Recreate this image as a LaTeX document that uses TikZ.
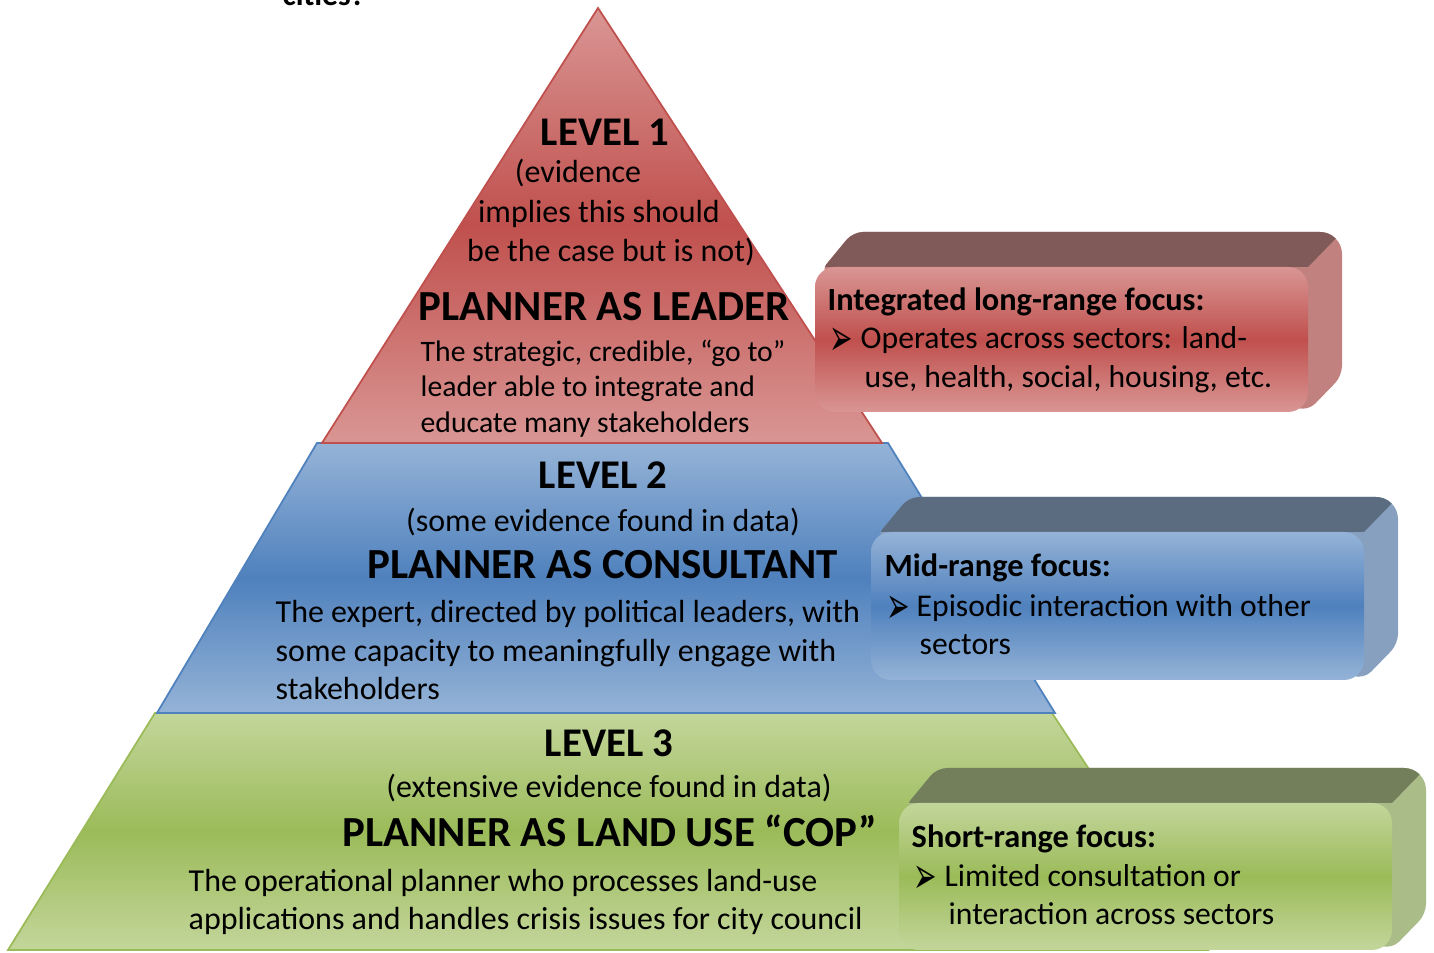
\documentclass[tikz,border=0pt]{standalone}
\usepackage{fontspec}
\setmainfont{Carlito}
\newfontfamily\symfont{DejaVu Sans}
\usepackage{tikz}

\definecolor{redlight}{HTML}{D99694}
\definecolor{reddark}{HTML}{C0504D}
\definecolor{redtop}{HTML}{805A59}
\definecolor{redside}{HTML}{C0817F}
\definecolor{bluelight}{HTML}{95B3D7}
\definecolor{bluedark}{HTML}{4F81BD}
\definecolor{bluetop}{HTML}{5B6B80}
\definecolor{blueside}{HTML}{87A0BF}
\definecolor{greenlight}{HTML}{C3D69B}
\definecolor{greendark}{HTML}{9BBB59}
\definecolor{greentop}{HTML}{737F5B}
\definecolor{greenside}{HTML}{AABD89}

\newcommand{\arrowbullet}{\raisebox{-0.65mm}{\scalebox{0.76}[1.4]{\symfont ➢}}}

\tikzset{
  levelhead/.style={inner sep=0pt, anchor=base, font=\fontsize{11.6}{13}\selectfont\bfseries},
  rolehead/.style={inner sep=0pt, anchor=base, font=\fontsize{12.2}{14}\selectfont\bfseries},
  evtext/.style={inner sep=0pt, anchor=base, font=\fontsize{9.1}{11}\selectfont},
  bodytext/.style={inner sep=0pt, anchor=base west, font=\fontsize{9.1}{11}\selectfont},
  smalltext/.style={inner sep=0pt, anchor=base west, font=\fontsize{8.45}{10}\selectfont},
  boxhead/.style={inner sep=0pt, anchor=base west, font=\fontsize{9.2}{11}\selectfont\bfseries},
  boxtext/.style={inner sep=0pt, anchor=base west, font=\fontsize{9}{11}\selectfont},
  bullet/.style={inner sep=0pt, anchor=base west, font=\fontsize{10.5}{11}\selectfont},
  redfill/.style={draw=reddark, line width=0.5pt, top color=redlight, bottom color=redlight, middle color=reddark},
  bluefill/.style={draw=bluedark, line width=0.5pt, top color=bluelight, bottom color=bluelight, middle color=bluedark},
  greenfill/.style={draw=greendark, line width=0.5pt, top color=greenlight, bottom color=greenlight, middle color=greendark},
}

\begin{document}
\begin{tikzpicture}
		\useasboundingbox (0,0) rectangle (14.34,9.53);
		\node[inner sep=0pt, anchor=base west, font=\fontsize{9}{11}\selectfont\bfseries] (cities) at (2.82,9.47) {cities?};
		
		% pyramid
		\path[greenfill] (1.55,2.40) -- (10.52,2.40) -- (12.08,0.03) -- (0.08,0.03) -- cycle;
		\path[bluefill] (3.17,5.10) -- (8.88,5.10) -- (10.55,2.40) -- (1.57,2.40) -- cycle;
		\path[redfill] (5.98,9.45) -- (8.82,5.10) -- (3.22,5.10) -- cycle;
		
		% boxes: back (top + side), then front
		\foreach \xa/\ya/\yb/\col in {8.15/5.41/6.86/red, 8.71/2.73/4.21/blue, 8.99/0.03/1.50/green}{
			\pgfmathsetmacro\xb{\xa+4.93}
			\begin{scope}
				\path[clip, rounded corners=0.1cm] (\xa+0.05,\yb-0.05) -- (\xa+0.38,\yb+0.35) [rounded corners=0.22cm] -- (\xb+0.34,\yb+0.35) [rounded corners=0.1cm] -- (\xb+0.34,\ya+0.36) -- (\xb,\ya+0.01) -- cycle;
				\fill[\col side] (\xa,\ya) rectangle (\xb+0.4,\yb+0.4);
				\fill[\col top] (\xa,\yb) -- (\xa+0.35,\yb+0.35) -- (\xb+0.34,\yb+0.35) -- (\xb,\yb) -- cycle;
			\end{scope}
			\path[top color=\col light, bottom color=\col light, middle color=\col dark, rounded corners=0.2cm] (\xa,\ya) rectangle (\xb,\yb);
		}
		
		% level 1
		\node[levelhead] (lvla) at (6.05,8.07) {LEVEL 1};
		\node[evtext] (evaa) at (5.78,7.70) {(evidence};
		\node[evtext] (evab) at (5.99,7.30) {implies this should};
		\node[evtext] (evac) at (6.11,6.91) {be the case but is not)};
		\node[rolehead] (rolea) at (6.04,6.32) {PLANNER AS LEADER};
		\node[smalltext] (bodyaa) at (4.20,5.91) {The strategic, credible, “go to”};
		\node[smalltext] (bodyab) at (4.20,5.56) {leader able to integrate and};
		\node[smalltext] (bodyac) at (4.20,5.20) {educate many stakeholders};
		
		% level 2
		\node[levelhead] (lvlb) at (6.03,4.64) {LEVEL 2};
		\node[evtext] (evb) at (6.03,4.21) {(some evidence found in data)};
		\node[rolehead] (roleb) at (6.03,3.74) {PLANNER AS CONSULTANT};
		\node[bodytext] (bodyba) at (2.75,3.30) {The expert, directed by political leaders, with};
		\node[bodytext] (bodybb) at (2.75,2.91) {some capacity to meaningfully engage with};
		\node[bodytext] (bodybc) at (2.75,2.53) {stakeholders};
		
		% level 3
		\node[levelhead] (lvlc) at (6.09,1.96) {LEVEL 3};
		\node[evtext] (evc) at (6.09,1.55) {(extensive evidence found in data)};
		\node[rolehead] (rolec) at (6.10,1.06) {PLANNER AS LAND USE “COP”};
		\node[bodytext] (bodyca) at (1.88,0.61) {The operational planner who processes land-use};
		\node[bodytext] (bodycb) at (1.88,0.23) {applications and handles crisis issues for city council};
		
		% box texts
		\node[boxhead] (focusa) at (8.27,6.42) {Integrated long-range focus:};
		\node[bullet] (bulla) at (8.29,6.04) {\arrowbullet};
		\node[boxtext] (itemaa) at (8.60,6.04) {Operates across sectors: land-};
		\node[boxtext] (itemab) at (8.64,5.65) {use, health, social, housing, etc.};
		
		\node[boxhead] (focusb) at (8.84,3.76) {Mid-range focus:};
		\node[bullet] (bullb) at (8.86,3.36) {\arrowbullet};
		\node[boxtext] (itemba) at (9.16,3.36) {Episodic interaction with other};
		\node[boxtext] (itembb) at (9.19,2.98) {sectors};
		
		\node[boxhead] (focusc) at (9.11,1.05) {Short-range focus:};
		\node[bullet] (bullc) at (9.13,0.66) {\arrowbullet};
		\node[boxtext] (itemca) at (9.44,0.66) {Limited consultation or};
		\node[boxtext] (itemcb) at (9.48,0.28) {interaction across sectors};
\end{tikzpicture}
\end{document}
